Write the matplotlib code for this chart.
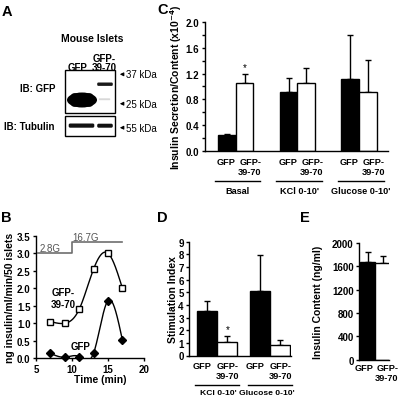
import numpy as np
import matplotlib
matplotlib.use('Agg')
import matplotlib.pyplot as plt
from matplotlib.patches import Rectangle, FancyBboxPatch, Ellipse
from matplotlib.ticker import MultipleLocator, FormatStrFormatter

# ---- data ----
# panel B: perifusion time course
time_min = [7, 9, 11, 13, 15, 17]
b_gfp3970 = [1.05, 1.0, 1.4, 2.55, 3.0, 2.0]
b_gfp = [0.14, 0.03, 0.05, 0.15, 1.65, 0.52]
step_x = [5.3, 10, 10, 17]
step_y = [3.0, 3.0, 3.33, 3.33]

# panel C: secretion / content
c_groups = ['Basal', "KCl 0-10'", "Glucose 0-10'"]
c_gfp = [0.245, 0.92, 1.11]
c_gfp_err = [0.02, 0.21, 0.69]
c_3970 = [1.05, 1.05, 0.91]
c_3970_err = [0.15, 0.24, 0.50]
c_star = [True, False, False]

# panel D: stimulation index
d_groups = ["KCl 0-10'", "Glucose 0-10'"]
d_gfp = [3.5, 5.07]
d_gfp_err = [0.79, 2.91]
d_3970 = [1.05, 0.86]
d_3970_err = [0.49, 0.37]
d_star = [True, False]

# panel E: insulin content
e_vals = [1680, 1652]
e_err = [160, 130]

names = ['GFP', 'GFP-\n39-70']

plt.rcParams['font.family'] = ['Liberation Sans', 'DejaVu Sans']
plt.rcParams['font.weight'] = 'bold'
plt.rcParams['axes.labelweight'] = 'bold'
plt.rcParams['font.size'] = 7
plt.rcParams['axes.labelsize'] = 7.5
plt.rcParams['axes.linewidth'] = 1.0
for a in ['xtick', 'ytick']:
    plt.rcParams[a + '.major.width'] = 1.0
    plt.rcParams[a + '.minor.width'] = 1.0
    plt.rcParams[a + '.major.size'] = 2.5
    plt.rcParams[a + '.minor.size'] = 2.5
    plt.rcParams[a + '.major.pad'] = 1.5
    plt.rcParams[a + '.labelsize'] = 7

CAT = 6.6  # category label size


def natural_spline(x, y, n=300):
    # smooth connecting curve through the measured points
    x = np.asarray(x, float)
    y = np.asarray(y, float)
    k = len(x)
    h = np.diff(x)
    A = np.zeros((k, k))
    r = np.zeros(k)
    A[0, 0] = A[-1, -1] = 1
    for i in range(1, k - 1):
        A[i, i - 1] = h[i - 1]
        A[i, i] = 2 * (h[i - 1] + h[i])
        A[i, i + 1] = h[i]
        r[i] = 3 * ((y[i + 1] - y[i]) / h[i] - (y[i] - y[i - 1]) / h[i - 1])
    c = np.linalg.solve(A, r)
    b = (y[1:] - y[:-1]) / h - h * (2 * c[:-1] + c[1:]) / 3
    d = (c[1:] - c[:-1]) / (3 * h)
    xs = np.linspace(x[0], x[-1], n)
    idx = np.clip(np.searchsorted(x, xs) - 1, 0, k - 2)
    dx = xs - x[idx]
    return xs, y[idx] + b[idx] * dx + c[idx] * dx ** 2 + d[idx] * dx ** 3


def style(ax):
    for s in ['right', 'top']:
        ax.spines[s].set_visible(False)


def bars(ax, pos, vals, errs, color):
    ax.bar(pos, vals, 1.0, color=color, edgecolor='black', linewidth=1.0, zorder=2)
    ax.errorbar(pos, vals, yerr=[np.zeros(len(errs)), errs], fmt='none',
                ecolor='black', elinewidth=1.0, capsize=2.2, capthick=1.0, zorder=1)


def under(ax, x, text, dy, ha='center'):
    ax.annotate(text, xy=(x, 0), xycoords=('data', 'axes fraction'),
                xytext=(0, dy), textcoords='offset points', ha=ha, va='top',
                multialignment='right', linespacing=1.15, fontsize=CAT)


W, H = 401, 402
fig = plt.figure(figsize=(W / 100, H / 100), dpi=100)

# overlay in pixel coordinates for the blot and panel letters
ax0 = fig.add_axes([0, 0, 1, 1])
ax0.set_xlim(0, W)
ax0.set_ylim(H, 0)
ax0.axis('off')
for lab, x, y in [('A', 7, 12.5), ('C', 163, 10), ('B', 6, 218), ('D', 162, 218), ('E', 305, 218)]:
    ax0.text(x, y, lab, fontsize=10.5, ha='center', va='center')

ax0.text(91.7, 39.5, 'Mouse Islets', fontsize=7.5, ha='center', va='center')
ax0.text(104, 59.5, 'GFP-', ha='center', va='center')
ax0.text(78, 68, 'GFP', ha='center', va='center')
ax0.text(104, 68, '39-70', ha='center', va='center')
ax0.add_patch(Rectangle((65.3, 70.7), 50, 43.3, fill=False, lw=1.0, ec='black'))
ax0.add_patch(Rectangle((65.3, 116.7), 50, 20, fill=False, lw=1.0, ec='black'))
ax0.add_patch(Ellipse((82, 101), 30, 15, fc='black', ec='none'))
ax0.add_patch(FancyBboxPatch((71, 94.5), 22, 13, boxstyle='round,pad=0.3,rounding_size=4',
                             fc='black', ec='none'))
ax0.add_patch(FancyBboxPatch((97.5, 83.8), 15, 2.8, boxstyle='round,pad=0.3,rounding_size=1.2',
                             fc='#1a1a1a', ec='none'))
ax0.add_patch(FancyBboxPatch((99, 99.5), 11, 1.5, boxstyle='round,pad=0.2,rounding_size=0.7',
                             fc='#d8d8d8', ec='none'))
ax0.add_patch(FancyBboxPatch((69, 124.8), 25, 3.6, boxstyle='round,pad=0.3,rounding_size=1.5',
                             fc='#111111', ec='none'))
ax0.add_patch(FancyBboxPatch((97.5, 125), 15, 3.4, boxstyle='round,pad=0.3,rounding_size=1.5',
                             fc='#111111', ec='none'))
ax0.text(55, 89.3, 'IB: GFP', ha='right', va='center')
ax0.text(55, 127, 'IB: Tubulin', ha='right', va='center')
for y, lab in [(75.3, '37 kDa'), (104.7, '25 kDa'), (128.7, '55 kDa')]:
    ax0.annotate('', xy=(117, y), xytext=(126, y),
                 arrowprops=dict(arrowstyle='-|>', lw=0.8, color='black', mutation_scale=5))
    ax0.text(126.5, y, lab, ha='left', va='center', fontweight='normal', fontsize=7)

# ---- panel B ----
axB = fig.add_axes([36 / W, 1 - 359.3 / H, 108 / W, 122.6 / H])
style(axB)
xs, ys = natural_spline(time_min, b_gfp3970)
axB.plot(xs, ys, color='black', lw=1.0, zorder=2)
axB.plot(time_min, b_gfp3970, ls='none', marker='s', ms=4, mfc='white', mec='black', mew=1.0,
         zorder=3, clip_on=False)
xs, ys = natural_spline(time_min, b_gfp)
axB.plot(xs, ys, color='black', lw=1.0, zorder=2)
axB.plot(time_min, b_gfp, ls='none', marker='D', ms=3.6, mfc='black', mec='black',
         zorder=3, clip_on=False)
axB.plot(step_x, step_y, color='#6e6e6e', lw=1.2, clip_on=False)
axB.text(5.55, 3.14, '2.8G', color='#555555', fontweight='normal', va='center', fontsize=7)
axB.text(10.05, 3.47, '16.7G', color='#555555', fontweight='normal', va='center', fontsize=7)
axB.text(8.75, 1.72, 'GFP-\n39-70', ha='center', va='center', linespacing=1.25)
axB.text(11.2, 0.34, 'GFP', ha='center', va='center')
axB.set_xlim(5, 20)
axB.set_ylim(0, 3.5)
axB.set_xticks([5, 10, 15, 20])
axB.yaxis.set_major_locator(MultipleLocator(0.5))
axB.yaxis.set_major_formatter(FormatStrFormatter('%.1f'))
axB.set_xlabel('Time (min)')
axB.set_ylabel('ng insulin/ml/min/50 islets')
axB.xaxis.set_label_coords(0.593, -0.13)
axB.yaxis.set_label_coords(-0.19, 0.5)

# ---- panel C ----
axC = fig.add_axes([205 / W, 1 - 151.7 / H, 183 / W, 128.4 / H])
style(axC)
c_centers = np.array([0.0, 3.5, 7.0])
bars(axC, c_centers, c_gfp, c_gfp_err, 'black')
bars(axC, c_centers + 1, c_3970, c_3970_err, 'white')
for i, s in enumerate(c_star):
    if s:
        axC.text(c_centers[i] + 1, c_3970[i] + c_3970_err[i] + 0.03, '*', ha='center',
                 va='bottom', fontweight='normal', fontsize=7)
axC.set_xlim(-1.25, 9.15)
axC.set_ylim(0, 2.0)
axC.set_xticks([])
axC.yaxis.set_major_locator(MultipleLocator(0.4))
axC.yaxis.set_minor_locator(MultipleLocator(0.2))
axC.yaxis.set_major_formatter(FormatStrFormatter('%.1f'))
axC.set_ylabel('Insulin Secretion/Content (x10$^{-4}$)')
axC.yaxis.set_label_coords(-0.115, 0.5)
for i, g in enumerate(c_groups):
    under(axC, c_centers[i] - 0.05, names[0], -4.5)
    under(axC, c_centers[i] + 1.3, names[1], -4.5)
    mid = c_centers[i] + 0.6
    axC.plot([mid - 1.3, mid + 1.3], [-0.234, -0.234], color='black', lw=1.0,
             transform=axC.get_xaxis_transform(), clip_on=False)
    axC.annotate(g, xy=(mid, -0.312), xycoords=('data', 'axes fraction'), ha='center',
                 va='center', fontsize=CAT)

# ---- panel D ----
axD = fig.add_axes([189.3 / W, 1 - 356.5 / H, 102 / W, 113.8 / H])
style(axD)
d_centers = np.array([0.0, 2.6])
bars(axD, d_centers, d_gfp, d_gfp_err, 'black')
bars(axD, d_centers + 1, d_3970, d_3970_err, 'white')
for i, s in enumerate(d_star):
    if s:
        axD.text(d_centers[i] + 1, d_3970[i] + d_3970_err[i] + 0.15, '*', ha='center',
                 va='bottom', fontweight='normal', fontsize=7)
axD.set_xlim(-0.87, 4.15)
axD.set_ylim(0, 9)
axD.set_xticks([])
axD.yaxis.set_major_locator(MultipleLocator(1))
axD.set_ylabel('Stimulation Index')
axD.yaxis.set_label_coords(-0.11, 0.5)
for i, g in enumerate(d_groups):
    under(axD, d_centers[i] - 0.25, names[0], -4)
    under(axD, d_centers[i] + 1.0, names[1], -4)
    mid = d_centers[i] + 0.5
    axD.plot([mid - 1.08, mid + 1.08], [-0.259, -0.259], color='black', lw=1.0,
             transform=axD.get_xaxis_transform(), clip_on=False)
    axD.annotate(g, xy=(d_centers[i] + (0.55 if i == 0 else 2.95 - 2.6), -0.323),
                 xycoords=('data', 'axes fraction'), ha='center', va='center', fontsize=6.1)

# ---- panel E ----
axE = fig.add_axes([359.3 / W, 1 - 360.7 / H, 30 / W, 116.7 / H])
style(axE)
bars(axE, [0], e_vals[:1], e_err[:1], 'black')
bars(axE, [1], e_vals[1:], e_err[1:], 'white')
axE.set_xlim(-0.58, 1.46)
axE.set_ylim(0, 2000)
axE.set_xticks([])
axE.yaxis.set_major_locator(MultipleLocator(400))
axE.set_ylabel('Insulin Content (ng/ml)')
axE.yaxis.set_label_coords(-1.2, 0.5)
under(axE, 0.4, names[0], -2.5, ha='right')
under(axE, 0.47, names[1], -2.5, ha='left')

fig.savefig('out.png', dpi=100)
